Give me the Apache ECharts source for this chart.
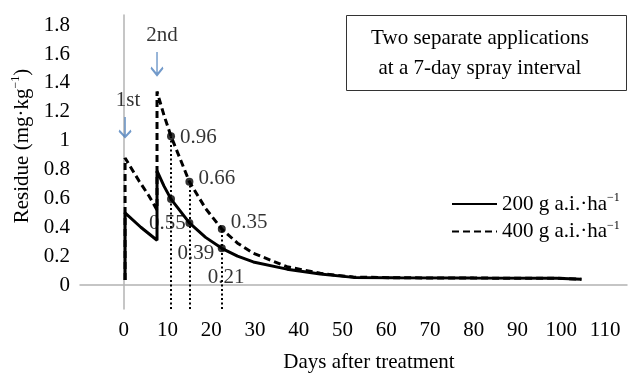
<!DOCTYPE html>
<html>
<head>
<meta charset="utf-8">
<script src="https://cdn.jsdelivr.net/npm/echarts@6/dist/echarts.min.js"></script>
<style>
  html, body { margin: 0; padding: 0; background: #fff; }
  #residueChart { width: 640px; height: 375px; }
</style>
</head>
<body>
<div id="residueChart"></div>
<script>
// 200 g a.i./ha curve (days, mg/kg)
const days200 = [0.3, 0.3, 3.9, 7.6, 7.6, 9.2, 10.8, 15.0, 18.7, 22.4, 26, 29.6, 37.3, 44.9, 52.5, 63.2, 80, 98.9, 104.6];
const residue200 = [0.035, 0.50, 0.40, 0.31, 0.79, 0.685, 0.595, 0.43, 0.33, 0.254, 0.20, 0.16, 0.11, 0.076, 0.053, 0.05, 0.048, 0.047, 0.04];
// 400 g a.i./ha curve
const days400 = [0.3, 0.3, 3.5, 5.7, 7.6, 7.6, 9.2, 10.8, 15.0, 18.7, 22.4, 26, 29.6, 37.3, 44.9, 52.5, 63.2, 80, 98.9, 104.6];
const residue400 = [0.035, 0.88, 0.72, 0.62, 0.52, 1.34, 1.175, 1.03, 0.715, 0.53, 0.388, 0.29, 0.22, 0.127, 0.081, 0.055, 0.05, 0.048, 0.047, 0.04];

// sampling points (3, 7, 14 days after 2nd spray)
const sampleDays = [10.8, 15.0, 22.4];
const sampleHigh = [1.03, 0.715, 0.388];
const sampleLow = [0.595, 0.43, 0.254];
const highLabels = ['0.96', '0.66', '0.35'];
const lowLabels = ['0.55', '0.39', '0.21'];

// spray applications
const sprayDays = [0.3, 7.6];
const sprayNames = ['1st', '2nd'];

const xTicks = [0, 10, 20, 30, 40, 50, 60, 70, 80, 90, 100, 110];
const yTicks = [0, 0.2, 0.4, 0.6, 0.8, 1, 1.2, 1.4, 1.6, 1.8];

const seriesNames = ['200 g a.i.·ha', '400 g a.i.·ha'];

const FONT = 'Liberation Serif';
const Y_MIN = -0.166;
const Y_MAX = 1.87;

// arrow placement (y value of arrow centre) and size
const arrowLevels = [1.094, 1.534];
const arrowSizes = [[12, 20], [12, 23]];
const highOffsets = [[0, 1], [0, -3], [0, -7]];
const lowOffsets = [[-26, 24], [-16, 31], [-18, 29]];

let chart = echarts.init(document.getElementById('residueChart'));

const zip = (a, b) => a.map((v, i) => [v, b[i]]);

chart.setOption({
  animation: false,
  textStyle: { fontFamily: FONT },
  grid: { left: 80, right: 13, top: 15, bottom: 66 },
  legend: {
    orient: 'vertical',
    left: 446,
    top: 187,
    itemWidth: 45,
    itemHeight: 14,
    itemGap: 5,
    data: seriesNames,
    itemStyle: { color: 'transparent', borderColor: 'transparent', borderWidth: 0, opacity: 0 },
    formatter: name => `{n|${name}}{s|−1}`,
    textStyle: {
      color: '#000',
      rich: {
        n: { fontFamily: FONT, fontSize: 21, lineHeight: 24, color: '#000' },
        s: { fontFamily: FONT, fontSize: 12, lineHeight: 12, verticalAlign: 'top', color: '#000' }
      }
    }
  },
  xAxis: {
    type: 'value',
    min: -10,
    max: 115,
    axisLine: { show: true, lineStyle: { color: '#b3b3b3', width: 1.5 } },
    axisTick: { show: false },
    splitLine: { show: false },
    axisLabel: {
      customValues: xTicks,
      margin: 11,
      color: '#000',
      fontFamily: FONT,
      fontSize: 21
    }
  },
  yAxis: {
    type: 'value',
    min: Y_MIN,
    max: Y_MAX,
    axisLine: { show: true, lineStyle: { color: '#b3b3b3', width: 1.5 } },
    axisTick: { show: false },
    splitLine: { show: false },
    axisLabel: {
      customValues: yTicks,
      margin: 10,
      color: '#000',
      fontFamily: FONT,
      fontSize: 21
    }
  },
  graphic: [
    {
      type: 'text',
      x: 22,
      y: 146,
      rotation: Math.PI / 2,
      style: {
        text: '{n|Residue (mg·kg}{s|−1}{n|)}',
        align: 'center',
        verticalAlign: 'middle',
        rich: {
          n: { fontFamily: FONT, fontSize: 21, lineHeight: 24, fill: '#000' },
          s: { fontFamily: FONT, fontSize: 12, lineHeight: 12, verticalAlign: 'top', fill: '#000' }
        }
      }
    },
    {
      type: 'text',
      x: 369,
      y: 362,
      style: {
        text: 'Days after treatment',
        align: 'center',
        verticalAlign: 'middle',
        fontFamily: FONT,
        fontSize: 21,
        fill: '#000'
      }
    },
    {
      type: 'rect',
      shape: { x: 346.5, y: 15.5, width: 280, height: 75 },
      style: { fill: '#fff', stroke: '#333', lineWidth: 1 }
    },
    {
      type: 'text',
      x: 480,
      y: 53,
      style: {
        text: 'Two separate applications\nat a 7-day spray interval',
        align: 'center',
        verticalAlign: 'middle',
        lineHeight: 30,
        fontFamily: FONT,
        fontSize: 21,
        fill: '#000'
      }
    }
  ],
  series: [
    {
      name: seriesNames[0],
      type: 'line',
      data: zip(days200, residue200),
      symbol: 'none',
      color: '#000',
      lineStyle: { color: '#000', width: 3 },
      z: 3
    },
    {
      name: seriesNames[1],
      type: 'line',
      data: zip(days400, residue400),
      symbol: 'none',
      color: '#000',
      lineStyle: { color: '#000', width: 3, type: [7, 4] },
      z: 2,
      markLine: {
        silent: true,
        symbol: 'none',
        label: { show: false },
        lineStyle: { color: '#000', width: 2, type: [2, 2.5] },
        data: sampleDays.map((d, i) => [{ coord: [d, Y_MIN] }, { coord: [d, sampleHigh[i]] }])
      }
    },
    {
      name: 'high points',
      type: 'scatter',
      symbol: 'circle',
      symbolSize: 8,
      itemStyle: { color: '#000' },
      z: 4,
      data: sampleDays.map((d, i) => ({
        value: [d, sampleHigh[i]],
        label: {
          show: true,
          position: 'right',
          distance: 5,
          offset: highOffsets[i],
          formatter: highLabels[i],
          color: '#000',
          fontFamily: FONT,
          fontSize: 21
        }
      }))
    },
    {
      name: 'low points',
      type: 'scatter',
      symbol: 'circle',
      symbolSize: 8,
      itemStyle: { color: '#000' },
      z: 4,
      data: sampleDays.map((d, i) => ({
        value: [d, sampleLow[i]],
        label: {
          show: true,
          position: 'right',
          distance: 0,
          offset: lowOffsets[i],
          formatter: lowLabels[i],
          color: '#000',
          fontFamily: FONT,
          fontSize: 21
        }
      }))
    },
    {
      name: 'sprays',
      type: 'scatter',
      symbol: 'path://M6,0 L6,22 M0,15 L6,22 L12,15',
      itemStyle: { color: 'none', borderColor: '#4f81bd', borderWidth: 2 },
      z: 5,
      data: sprayDays.map((d, i) => ({
        value: [d, arrowLevels[i]],
        symbolSize: arrowSizes[i],
        label: {
          show: true,
          position: 'top',
          distance: 3,
          offset: [i === 0 ? 3 : 5, 0],
          formatter: sprayNames[i],
          color: '#000',
          fontFamily: FONT,
          fontSize: 21
        }
      }))
    }
  ]
});
</script>
</body>
</html>
